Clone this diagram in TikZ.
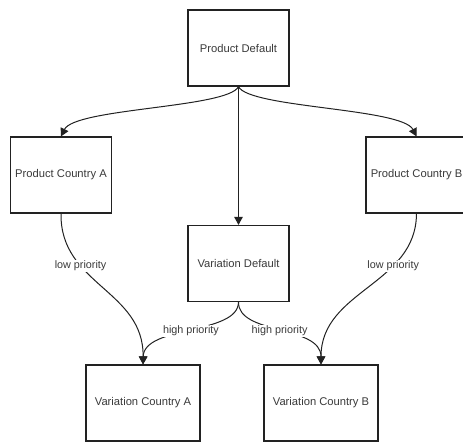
\documentclass[tikz,border=0pt]{standalone}
\usepackage{fontspec}
\setmainfont{Liberation Sans}
\usetikzlibrary{arrows.meta}
\definecolor{txt}{HTML}{3A3A3A}
\definecolor{ln}{HTML}{222222}
\begin{document}
\begin{tikzpicture}[x=1pt,y=-1pt,
  box/.style={draw=ln, line width=1.2pt, fill=white, minimum width=101pt, minimum height=76pt, inner sep=0pt, font=\fontsize{11.2}{13}\selectfont, text=txt},
  wbox/.style={box, minimum width=114pt},
  conn/.style={draw=ln, line width=1pt, -{Triangle[length=8pt,width=8.5pt]}},
  lbl/.style={fill=white, inner sep=1pt, font=\fontsize{10.8}{13}\selectfont, text=txt}]
\useasboundingbox (0,0) rectangle (463,442);
\node[box] (pd) at (238.5,48) {Product Default};
\node[box] (pca) at (61,175) {Product Country A};
\node[box] (pcb) at (416.5,175) {Product Country B};
\node[box] (vd) at (238.5,263.5) {Variation Default};
\node[wbox] (vca) at (143,403) {Variation Country A};
\node[wbox] (vcb) at (321,403) {Variation Country B};
\draw[conn] (pd.south) .. controls (228,108) and (75,108) .. (pca.north);
\draw[conn] (pd.south) .. controls (249,108) and (402,108) .. (pcb.north);
\draw[conn] (pd.south) -- (vd.north);
\draw[conn] (pca.south) .. controls (60,285) and (144,290) .. node[lbl, pos=0.32] {low priority} (vca.north);
\draw[conn] (pcb.south) .. controls (416,285) and (321,290) .. node[lbl, pos=0.32] {low priority} (vcb.north);
\draw[conn] (vd.south) .. controls (238,335) and (144,325) .. node[lbl, pos=0.5] {high priority} (vca.north);
\draw[conn] (vd.south) .. controls (238,335) and (321,325) .. node[lbl, pos=0.5] {high priority} (vcb.north);
\end{tikzpicture}
\end{document}
